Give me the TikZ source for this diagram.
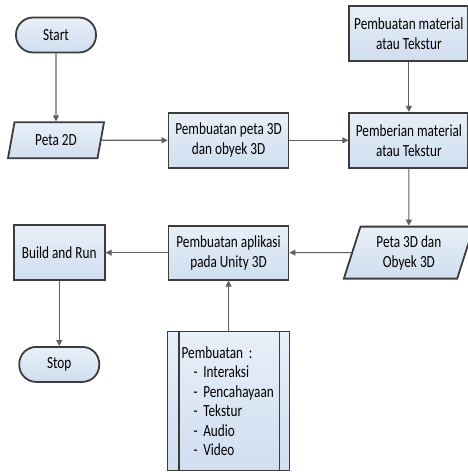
\documentclass[tikz,border=0pt]{standalone}
\usepackage{fontspec}
\setmainfont{Carlito}[FakeStretch=0.78]
\usetikzlibrary{positioning,shapes.geometric,arrows.meta}
\definecolor{boxtop}{RGB}{232,239,248}
\definecolor{boxbottom}{RGB}{208,222,240}
\definecolor{boxline}{RGB}{60,60,60}
\definecolor{arrowgray}{RGB}{96,96,96}
\tikzstyle{terminal} = [rectangle, rounded corners=17pt,
minimum width=80pt,
minimum height=35pt,
draw=boxline, line width=1.8pt,
top color=boxtop, bottom color=boxbottom]
\tikzstyle{process} = [rectangle,
minimum width=120pt,
minimum height=55pt,
align=center,
draw=boxline, line width=1.8pt,
top color=boxtop, bottom color=boxbottom]
\tikzstyle{io} = [trapezium, trapezium left angle=70, trapezium right angle=110,
trapezium stretches body,
minimum height=36pt,
align=center,
draw=boxline, line width=1.8pt,
top color=boxtop, bottom color=boxbottom]
\tikzstyle{subproc} = [rectangle,
minimum width=122pt,
minimum height=139pt,
text width=94pt,
align=left,
draw=boxline, line width=1.8pt,
top color=boxtop, bottom color=boxbottom]
\tikzstyle{arrow} = [line width=1.2pt, draw=arrowgray, ->, >={Triangle[length=6pt,width=6pt]}]

\begin{document}
\begin{tikzpicture}[x=1pt, y=-1pt, font=\fontsize{17}{20}\selectfont]
\useasboundingbox (0,0) rectangle (467,472);

% Left column
\node (Start) [terminal] at (56,35) {Start};
\node (Peta2D) [io, minimum width=96pt, below=68pt of Start.south] {Peta 2D};

% Top row
\node (Peta3D) [process, right=66pt of Peta2D] {Pembuatan peta 3D\\dan obyek 3D};
\node (Pemberian) [process, minimum width=119pt, right=59pt of Peta3D] {Pemberian material\\atau Tekstur};
\node (Material) [process, minimum width=119pt, above=50pt of Pemberian] {Pembuatan material\\atau Tekstur};

% Bottom row
\node (Peta3DObj) [io, trapezium left angle=68, trapezium right angle=112, minimum width=130pt, minimum height=52pt, below=57pt of Pemberian.south] {Peta 3D dan\\Obyek 3D};
\node (Aplikasi) [process, minimum height=54pt, below=56pt of Peta3D.south] {Pembuatan aplikasi\\pada Unity 3D};
\node (Build) [process, minimum width=91pt, left=62pt of Aplikasi] {Build and Run};
\node (Stop) [terminal, below=65pt of Build.south] {Stop};

% Predefined process
\node (Subproc) [subproc, below=50pt of Aplikasi.south, font=\fontsize{17}{19.5}\selectfont] {Pembuatan :\\
\hspace*{12pt}- Interaksi\\
\hspace*{12pt}- Pencahayaan\\
\hspace*{12pt}- Tekstur\\
\hspace*{12pt}- Audio\\
\hspace*{12pt}- Video};
\draw [draw=boxline, line width=1.8pt] ([xshift=12pt]Subproc.north west) -- ([xshift=12pt]Subproc.south west);
\draw [draw=boxline, line width=1.8pt] ([xshift=-11pt]Subproc.north east) -- ([xshift=-11pt]Subproc.south east);

% Connections
\draw [arrow] (Start) -- (Peta2D);
\draw [arrow] (Peta2D) -- (Peta3D);
\draw [arrow] (Peta3D) -- (Pemberian);
\draw [arrow] (Material) -- (Pemberian);
\draw [arrow] (Pemberian) -- (Peta3DObj);
\draw [arrow] (Peta3DObj) -- (Aplikasi);
\draw [arrow] (Subproc) -- (Aplikasi);
\draw [arrow] (Aplikasi) -- (Build);
\draw [arrow] (Build) -- (Stop);

\end{tikzpicture}
\end{document}
